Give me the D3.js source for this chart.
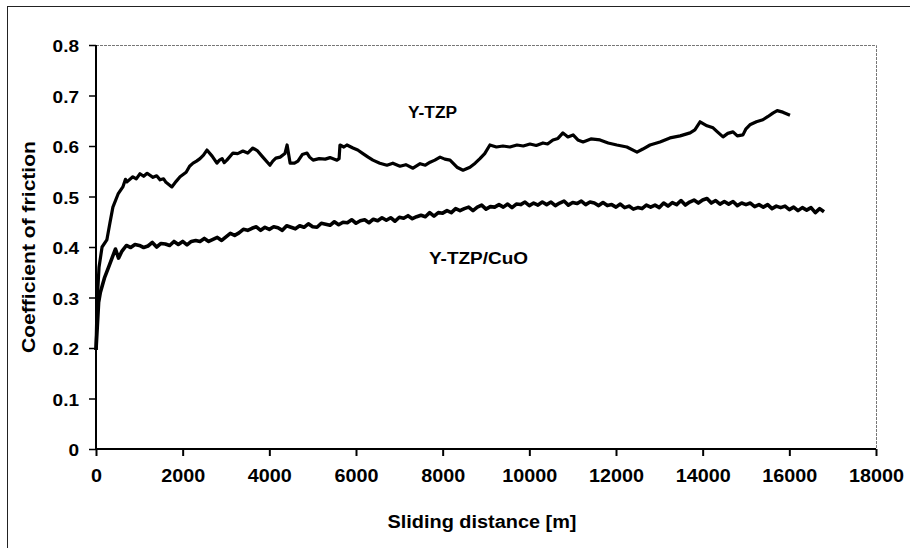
<!DOCTYPE html>
<html><head><meta charset="utf-8">
<script src="https://cdn.jsdelivr.net/npm/d3@7"></script>
<style>
html,body{margin:0;padding:0;background:#fff;}
svg{display:block;}
text{font-family:"Liberation Sans",Arial,Helvetica,sans-serif;font-weight:bold;fill:#000;}
</style></head>
<body>
<svg id="chart" width="910" height="548"></svg>
<script>
// ---- data ----
const xTicks = [0,2000,4000,6000,8000,10000,12000,14000,16000,18000];
const yTicks = [0,0.1,0.2,0.3,0.4,0.5,0.6,0.7,0.8];
const xTitle = "Sliding distance [m]";
const yTitle = "Coefficient of friction";
const seriesNames = ["Y-TZP","Y-TZP/CuO"];

const ytzp = [[0,.196],[25,.29],[70,.36],[140,.40],[250,.414],[320,.447],[390,.479],[510,.505],[620,.519],[680,.534],[715,.529],[850,.539],[930,.535],[1015,.545],[1100,.540],[1180,.546],[1315,.538],[1400,.541],[1480,.533],[1560,.535],[1615,.528],[1750,.519],[1850,.530],[1940,.539],[2080,.548],[2160,.560],[2240,.566],[2320,.570],[2400,.575],[2480,.582],[2560,.592],[2680,.580],[2790,.566],[2850,.572],[2910,.575],[2960,.567],[3020,.572],[3160,.586],[3270,.585],[3390,.590],[3500,.586],[3620,.596],[3720,.591],[3830,.580],[4015,.562],[4080,.570],[4150,.576],[4250,.578],[4360,.585],[4410,.602],[4480,.566],[4580,.566],[4660,.570],[4760,.583],[4870,.586],[4930,.578],[5010,.572],[5150,.575],[5290,.574],[5400,.577],[5560,.572],[5610,.575],[5630,.602],[5720,.598],[5790,.602],[5930,.596],[6040,.592],[6160,.585],[6280,.578],[6390,.572],[6550,.566],[6715,.562],[6850,.566],[7015,.560],[7150,.563],[7315,.556],[7480,.565],[7600,.562],[7710,.568],[7820,.572],[7940,.578],[8050,.574],[8170,.572],[8330,.558],[8470,.552],[8630,.558],[8750,.566],[8860,.575],[8970,.585],[9090,.602],[9240,.598],[9390,.600],[9550,.598],[9715,.602],[9860,.600],[10015,.604],[10160,.601],[10315,.606],[10420,.604],[10545,.612],[10660,.615],[10775,.626],[10890,.618],[11010,.622],[11120,.612],[11240,.608],[11420,.614],[11630,.612],[11820,.606],[12020,.602],[12250,.598],[12485,.588],[12620,.594],[12785,.602],[13015,.608],[13245,.616],[13480,.620],[13710,.626],[13820,.632],[13940,.648],[14100,.640],[14240,.636],[14340,.628],[14470,.618],[14580,.625],[14700,.628],[14800,.620],[14930,.622],[15000,.634],[15090,.642],[15240,.648],[15390,.652],[15500,.658],[15620,.665],[15720,.670],[15850,.667],[16015,.661]];

const cuo = [[0,.196],[60,.29],[100,.31],[200,.34],[300,.362],[400,.385],[450,.396],[520,.378],[600,.392],[700,.403],[800,.399],[900,.405],[1000,.403],[1100,.399],[1200,.402],[1300,.409],[1400,.400],[1500,.407],[1600,.406],[1700,.403],[1800,.411],[1900,.405],[2000,.411],[2100,.404],[2200,.411],[2300,.413],[2400,.411],[2500,.417],[2600,.411],[2700,.415],[2800,.419],[2900,.413],[3000,.420],[3100,.427],[3200,.423],[3300,.428],[3400,.435],[3500,.433],[3600,.437],[3700,.440],[3800,.433],[3900,.439],[4000,.435],[4100,.440],[4200,.438],[4300,.433],[4400,.442],[4500,.439],[4600,.436],[4700,.442],[4800,.439],[4900,.446],[5000,.440],[5100,.439],[5200,.447],[5300,.445],[5400,.443],[5500,.450],[5600,.444],[5700,.449],[5800,.448],[5900,.454],[6000,.447],[6100,.452],[6200,.454],[6300,.448],[6400,.455],[6500,.452],[6600,.458],[6700,.453],[6800,.458],[6900,.451],[7000,.459],[7100,.457],[7200,.462],[7300,.456],[7400,.460],[7500,.463],[7600,.460],[7700,.468],[7800,.461],[7900,.468],[8000,.467],[8100,.472],[8200,.468],[8300,.476],[8400,.472],[8500,.476],[8600,.479],[8700,.472],[8800,.479],[8900,.483],[9000,.475],[9100,.480],[9200,.479],[9300,.484],[9400,.479],[9500,.485],[9600,.478],[9700,.485],[9800,.484],[9900,.489],[10000,.482],[10100,.487],[10200,.483],[10300,.489],[10400,.484],[10500,.489],[10600,.482],[10700,.487],[10800,.491],[10900,.483],[11000,.488],[11100,.486],[11200,.491],[11300,.484],[11400,.489],[11500,.487],[11600,.482],[11700,.488],[11800,.482],[11900,.484],[12000,.479],[12100,.485],[12200,.478],[12300,.481],[12400,.475],[12500,.478],[12600,.476],[12700,.483],[12800,.479],[12900,.483],[13000,.478],[13100,.487],[13200,.481],[13300,.488],[13400,.484],[13500,.492],[13600,.483],[13700,.489],[13800,.493],[13900,.487],[14000,.493],[14100,.496],[14200,.487],[14300,.492],[14400,.485],[14500,.490],[14600,.485],[14700,.490],[14800,.482],[14900,.487],[15000,.484],[15100,.487],[15200,.480],[15300,.484],[15400,.479],[15500,.484],[15600,.476],[15700,.481],[15800,.478],[15900,.481],[16000,.474],[16100,.479],[16200,.472],[16300,.478],[16400,.473],[16500,.478],[16600,.468],[16700,.476],[16800,.470]];

// ---- layout ----
const svg = d3.select("#chart");
const L = 96, R = 876, T = 45, B = 449;
const x = d3.scaleLinear().domain([0,18000]).range([L,R]);
const y = d3.scaleLinear().domain([0,0.8]).range([B,T]);

// outer (cropped) frame: left & top edges
svg.append("line").attr("x1",7.5).attr("y1",6.5).attr("x2",7.5).attr("y2",548).attr("stroke","#222").attr("stroke-width",1);
svg.append("line").attr("x1",7).attr("y1",6.5).attr("x2",910).attr("y2",6.5).attr("stroke","#222").attr("stroke-width",1);

// plot area top/right border (thin grey)
svg.append("path").attr("d",`M${L},${T+0.5}H${R+0.5}V${B}`).attr("fill","none").attr("stroke","#777").attr("stroke-width",1).attr("stroke-dasharray","3,1");

function widen(sel, f){ sel.each(function(){ const t=this; const w=t.getComputedTextLength(); t.setAttribute("textLength", (w*f).toFixed(1)); t.setAttribute("lengthAdjust","spacingAndGlyphs"); }); }

// y axis
const yAxis = svg.append("g").attr("transform",`translate(${L},0)`)
  .call(d3.axisLeft(y).tickValues(yTicks).tickSize(7).tickPadding(10).tickFormat(d=>d===0?"0":d3.format(".1f")(d)));
yAxis.select(".domain").attr("stroke","#000").attr("stroke-width",2).attr("d",`M0,${T}V${B}`);
yAxis.selectAll(".tick line").attr("stroke","#000").attr("stroke-width",1.5);
yAxis.selectAll(".tick text").attr("font-size",16.5).attr("font-family","Liberation Sans, Arial, sans-serif").attr("font-weight","bold").attr("fill","#000").attr("dy","0.42em");
widen(yAxis.selectAll(".tick text"),1.15);

// x axis
const xAxis = svg.append("g").attr("transform",`translate(0,${B})`)
  .call(d3.axisBottom(x).tickValues(xTicks).tickSize(7).tickPadding(14).tickFormat(d3.format("d")));
xAxis.select(".domain").attr("stroke","#000").attr("stroke-width",2).attr("d",`M${L},0H${R}`);
xAxis.selectAll(".tick line").attr("stroke","#000").attr("stroke-width",2);
xAxis.selectAll(".tick text").attr("font-size",17.5).attr("font-family","Liberation Sans, Arial, sans-serif").attr("font-weight","bold").attr("fill","#000");
widen(xAxis.selectAll(".tick text"),1.13);

// lines
const line = d3.line().x(d=>x(d[0])).y(d=>y(d[1]));
svg.append("path").datum(cuo).attr("d",line).attr("fill","none").attr("stroke","#000").attr("stroke-width",3.6).attr("stroke-linejoin","round");
svg.append("path").datum(ytzp).attr("d",line).attr("fill","none").attr("stroke","#000").attr("stroke-width",3.2).attr("stroke-linejoin","round");

// series labels
svg.append("text").attr("x",408).attr("y",118).attr("font-size",16).attr("textLength",49).attr("lengthAdjust","spacingAndGlyphs").text(seriesNames[0]);
svg.append("text").attr("x",429).attr("y",264).attr("font-size",16).attr("textLength",99).attr("lengthAdjust","spacingAndGlyphs").text(seriesNames[1]);

// axis titles
svg.append("text").attr("x",(L+R)/2-4).attr("y",528).attr("text-anchor","middle").attr("font-size",18).attr("textLength",189).attr("lengthAdjust","spacingAndGlyphs").text(xTitle);
svg.append("text").attr("transform",`translate(35,${(T+B)/2}) rotate(-90)`).attr("text-anchor","middle").attr("font-size",18.5).attr("textLength",212).attr("lengthAdjust","spacingAndGlyphs").text(yTitle);
</script>
</body></html>
